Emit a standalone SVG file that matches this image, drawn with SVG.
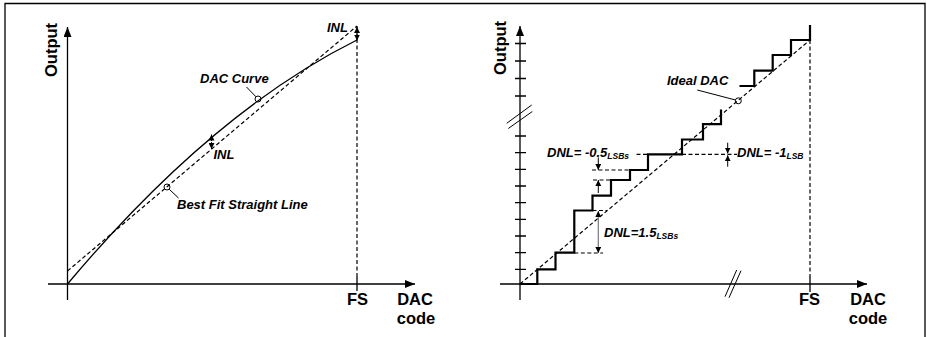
<svg xmlns="http://www.w3.org/2000/svg" width="927" height="337" viewBox="0 0 927 337">
<defs>
<marker id="ax" markerUnits="userSpaceOnUse" markerWidth="10" markerHeight="8" refX="10" refY="4" orient="auto"><path d="M0,0 L10,4 L0,8 z" fill="#000"/></marker>
<marker id="sa" markerUnits="userSpaceOnUse" markerWidth="6" markerHeight="6" refX="6" refY="3" orient="auto-start-reverse"><path d="M0,0 L6,3 L0,6 z" fill="#000"/></marker>
<style>
.ax{stroke:#000;stroke-width:1.3;fill:none}
.dash{stroke:#000;stroke-width:1.2;fill:none;stroke-dasharray:4 2.5}
.thin{stroke:#000;stroke-width:1;fill:none}
.step{stroke:#000;stroke-width:2.2;fill:none;stroke-linejoin:miter}
.big{font-family:"Liberation Sans",Arial,sans-serif;font-weight:bold;font-size:16.5px;fill:#000}
.lbl{font-family:"Liberation Sans",Arial,sans-serif;font-weight:bold;font-style:italic;font-size:13px;fill:#000}
.sub{font-size:8.5px}
</style>
</defs>
<g id="frame"><path d="M5,337 L5,3.5 L925,3.5 L925,337" class="ax" stroke-width="1.5"/></g>

<g id="left-panel">
<g id="left-axes">
<line x1="67.5" y1="300" x2="67.5" y2="27" class="ax" marker-end="url(#ax)"/>
<line x1="48" y1="284" x2="415" y2="284" class="ax" marker-end="url(#ax)"/>
<line x1="357" y1="276" x2="357" y2="291" class="ax"/>
<text class="big" transform="translate(57,50) rotate(-90)" text-anchor="middle" font-size="17">Output</text>
<text class="big" x="357.5" y="305" text-anchor="middle">FS</text>
<text class="big" x="415" y="305" text-anchor="middle">DAC</text>
<text class="big" x="416" y="324" text-anchor="middle">code</text>
</g>
<g id="left-connectors">
<line x1="357" y1="26" x2="357" y2="276" class="dash"/>
<line x1="67.5" y1="271" x2="357" y2="26" class="dash"/>
<path d="M67.5,284 Q212,112 357,40" class="ax" stroke-width="1.5"/>
<line x1="211.5" y1="141" x2="211.5" y2="134.5" class="thin" marker-end="url(#sa)"/>
<line x1="211.5" y1="142" x2="211.5" y2="149" class="thin" marker-end="url(#sa)"/>
<line x1="357" y1="33" x2="357" y2="27" class="thin" marker-end="url(#sa)"/>
<line x1="357" y1="34" x2="357" y2="40.5" class="thin" marker-end="url(#sa)"/>
<circle cx="258" cy="99" r="3" fill="#fff" class="thin"/>
<line x1="246.5" y1="87" x2="256" y2="96.8" class="thin"/>
<circle cx="167" cy="187" r="3" fill="#fff" class="thin"/>
<line x1="169.2" y1="189.2" x2="178.5" y2="198" class="thin"/>
</g>
<g id="left-labels">
<text class="lbl" x="200" y="83">DAC Curve</text>
<text class="lbl" x="177" y="209">Best Fit Straight Line</text>
<text class="lbl" x="213.5" y="159">INL</text>
<text class="lbl" x="327" y="32">INL</text>
</g>
</g>

<g id="right-panel">
<g id="right-axes">
<line x1="520" y1="300" x2="520" y2="26" class="ax" marker-end="url(#ax)"/>
<line x1="500" y1="284" x2="867" y2="284" class="ax" marker-end="url(#ax)"/>
<line x1="810" y1="276" x2="810" y2="292" class="ax"/>
<path d="M515,43.5 h11 M515,61 h11 M515,78.5 h11 M515,96 h11 M515,136 h11 M515,152.7 h11 M515,169.3 h11 M515,186 h11 M515,202.7 h11 M515,219.3 h11 M515,236 h11 M515,252.7 h11 M515,269.3 h11" class="ax" stroke-width="1.6"/>
<line x1="506.7" y1="123.3" x2="531.7" y2="105" class="thin"/>
<line x1="508.3" y1="128.5" x2="532.3" y2="111.5" class="thin"/>
<line x1="725" y1="296.7" x2="736.7" y2="270" class="thin"/>
<line x1="729" y1="297.7" x2="741" y2="270.7" class="thin"/>
<text class="big" transform="translate(505.5,48) rotate(-90)" text-anchor="middle" font-size="17">Output</text>
<text class="big" x="809.5" y="305" text-anchor="middle">FS</text>
<text class="big" x="868" y="305" text-anchor="middle">DAC</text>
<text class="big" x="868" y="324" text-anchor="middle">code</text>
</g>
<g id="right-connectors">
<line x1="810" y1="40" x2="810" y2="276" class="dash"/>
<line x1="520" y1="284" x2="810" y2="40" class="dash"/>
<path d="M520,284 H537.3 V269.3 H555.5 V252.7 H574.3 V210.5 H592.5 V195.7 H611 V180 H630 V170 H648 V154.3 H682 V139.5 H703 V124.2 H721 V109.5" class="step"/>
<path d="M739.5,86 H754.3 V70.7 H772.7 V55 H791 V40 H810 V25" class="step"/>
<line x1="592" y1="170" x2="630" y2="170" class="dash"/>
<line x1="593" y1="180" x2="611" y2="180" class="dash"/>
<line x1="592.5" y1="210.5" x2="607" y2="210.5" class="dash"/>
<line x1="574.3" y1="253" x2="603" y2="253" class="dash"/>
<line x1="636.5" y1="154.3" x2="648" y2="154.3" class="dash"/>
<line x1="682" y1="154.3" x2="737" y2="154.3" class="dash"/>
<line x1="598.3" y1="157.5" x2="598.3" y2="170" class="thin" marker-end="url(#sa)"/>
<line x1="598.3" y1="193" x2="598.3" y2="180" class="thin" marker-end="url(#sa)"/>
<line x1="598.3" y1="211" x2="598.3" y2="253" stroke="#777" stroke-width="1.2" marker-start="url(#sa)" marker-end="url(#sa)"/>
<line x1="727.7" y1="142.7" x2="727.7" y2="153.5" class="thin" marker-end="url(#sa)"/>
<line x1="727.7" y1="166.7" x2="727.7" y2="155.3" class="thin" marker-end="url(#sa)"/>
<circle cx="738.3" cy="100.8" r="3" fill="#fff" class="thin"/>
<line x1="697.3" y1="90" x2="735.5" y2="100" class="thin"/>
</g>
<g id="right-labels">
<text class="lbl" x="667" y="85">Ideal DAC</text>
<text class="lbl" x="547" y="157">DNL= -0.5<tspan class="sub" dy="2">LSBs</tspan></text>
<text class="lbl" x="737" y="157">DNL= -1<tspan class="sub" dy="2">LSB</tspan></text>
<text class="lbl" x="604" y="237">DNL=1.5<tspan class="sub" dy="2">LSBs</tspan></text>
</g>
</g>
</svg>
